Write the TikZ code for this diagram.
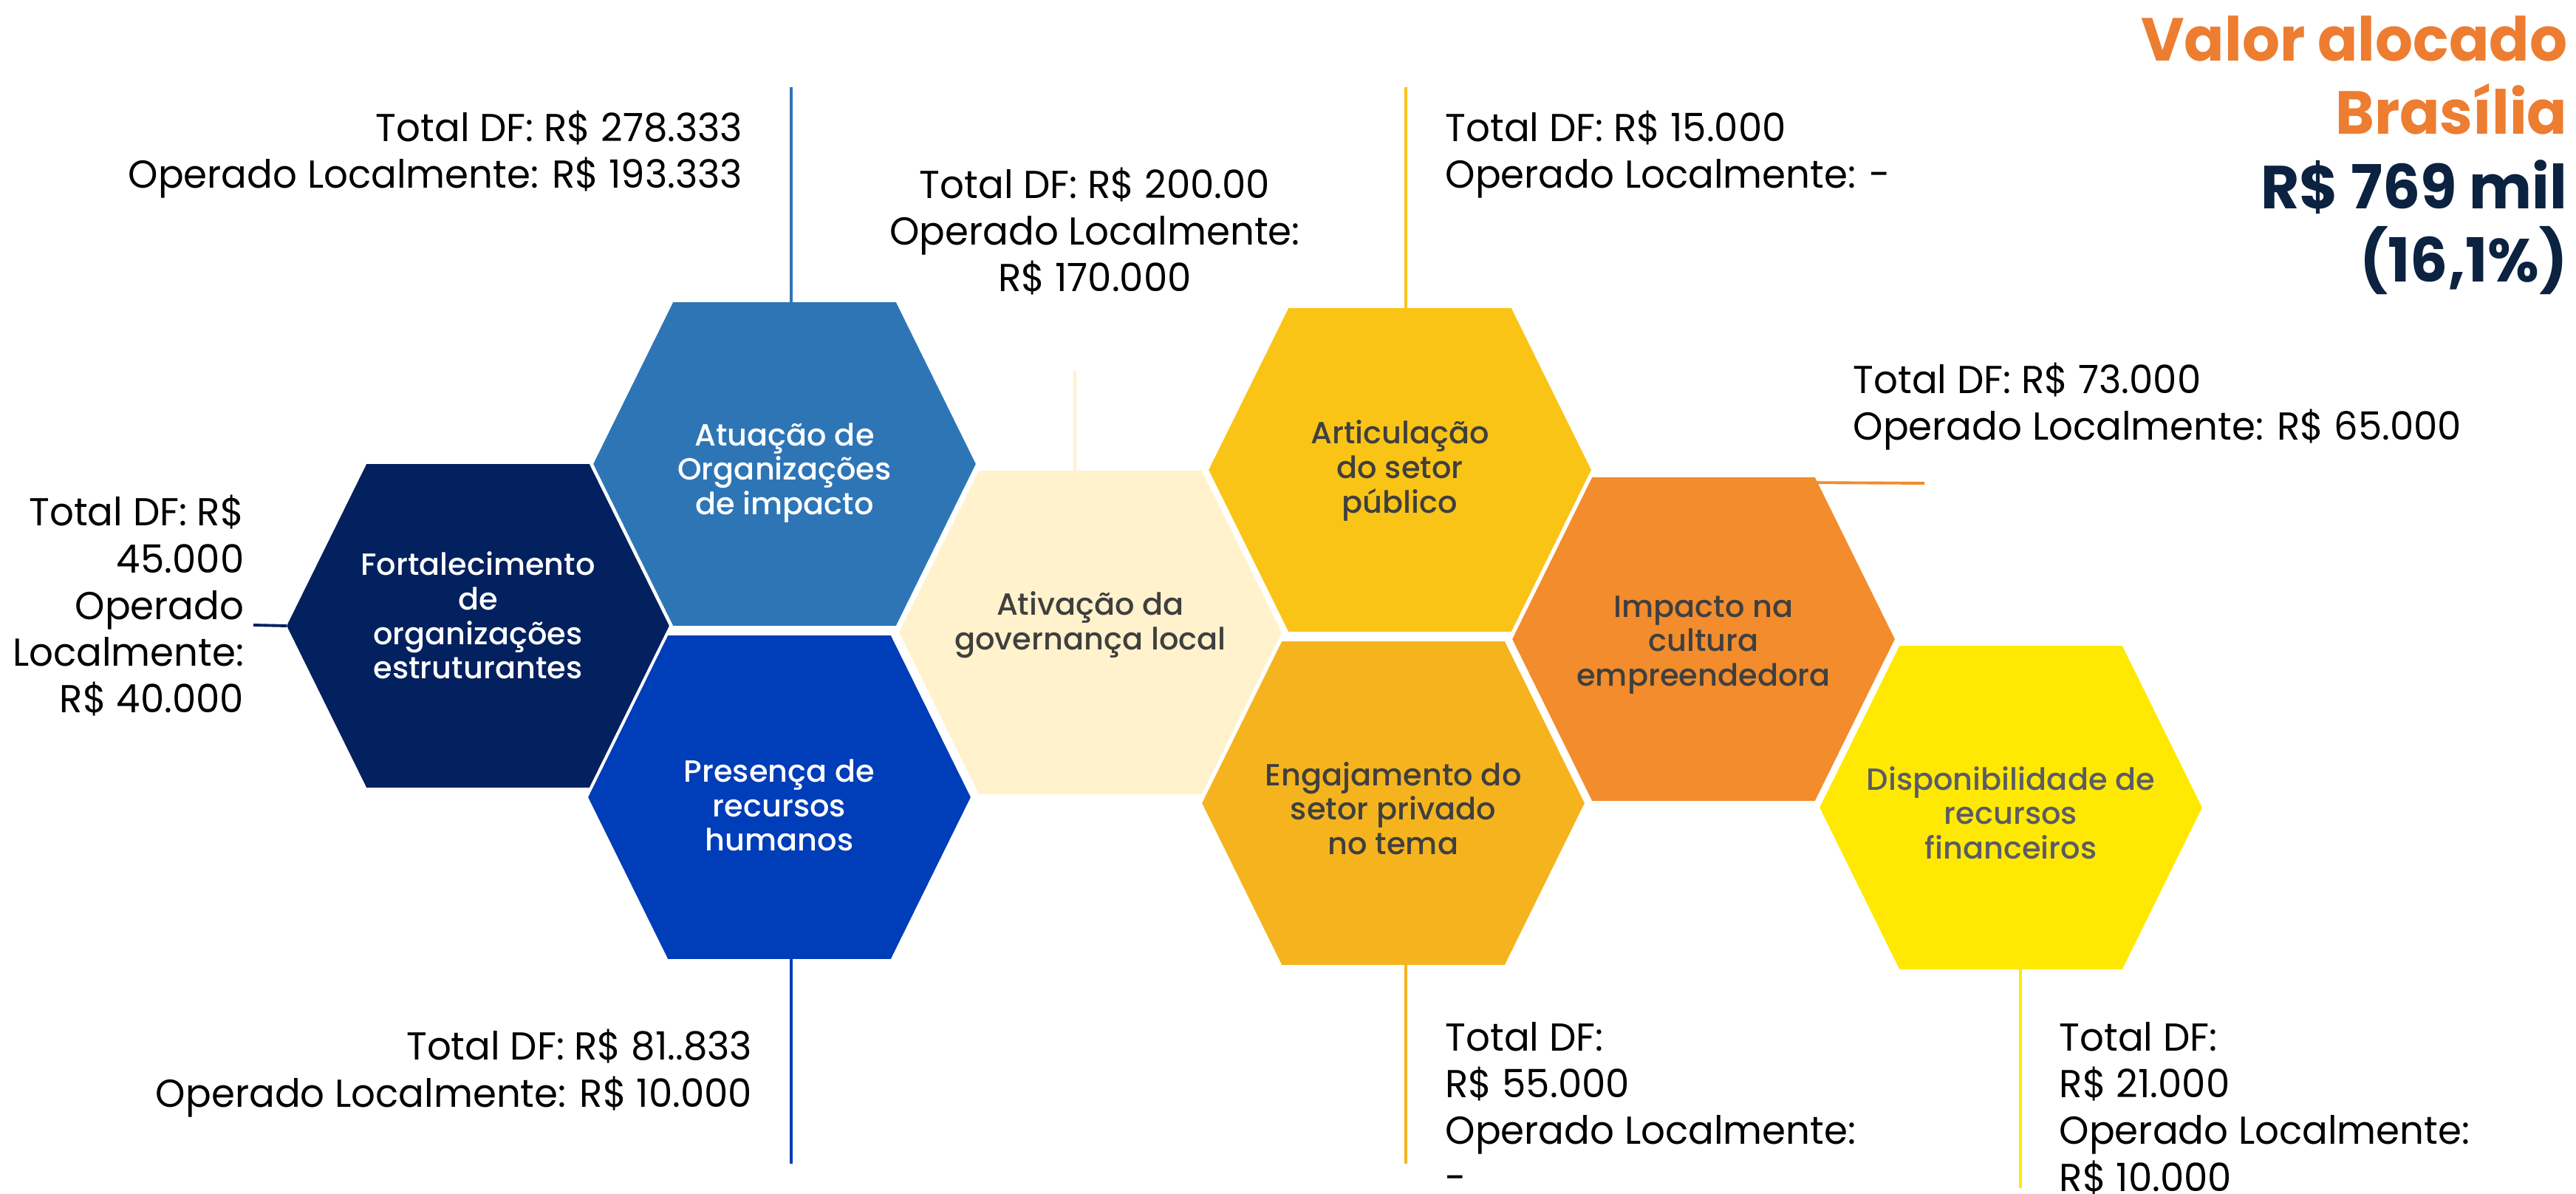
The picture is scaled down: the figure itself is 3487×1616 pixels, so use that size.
\documentclass[tikz,border=0pt]{standalone}
\usepackage{fontspec}
\setmainfont{Poppins}[FakeStretch=0.975]
\newfontfamily\hexfont{Poppins Medium}
\usetikzlibrary{calc,backgrounds}

\definecolor{navy}{HTML}{03215F}
\definecolor{steel}{HTML}{2E75B6}
\definecolor{royal}{HTML}{003DB8}
\definecolor{cream}{HTML}{FFF2CC}
\definecolor{gold}{HTML}{F9C416}
\definecolor{amber}{HTML}{F5B41E}
\definecolor{tangerine}{HTML}{F28C2C}
\definecolor{lemon}{HTML}{FFE903}
\definecolor{titleorange}{HTML}{ED7D31}
\definecolor{titlenavy}{HTML}{0B2240}
\definecolor{hextext}{HTML}{3F3F3F}
\definecolor{hexgrey}{HTML}{5B5B66}

\begin{document}
\begin{tikzpicture}
[
                  x =  0.01cm,
                  y = -0.01cm,
      hexcell/.style = { draw=none, inner sep=0pt, minimum width=5.16cm, minimum height=4.36cm },
     lighttxt/.style = { inner sep=0pt, align=center, text=white, font=\hexfont\fontsize{11.8}{13.3}\selectfont },
      darktxt/.style = { lighttxt, text=hextext },
       amount/.style = { inner sep=0pt, font=\fontsize{15}{18}\selectfont },
   leftamount/.style = { amount, anchor=base west, align=left },
  rightamount/.style = { amount, anchor=base east, align=right },
 centreamount/.style = { amount, anchor=base, align=center },
         link/.style = { line width=1.1pt },
        title/.style = { inner sep=0pt, anchor=base east, align=right, font=\bfseries\fontsize{23.4}{28.3}\selectfont }
]

    \useasboundingbox (0,0) rectangle (3487,1616);

    % honeycomb
    \node (Fort)  at (647,847)   [hexcell] {};
    \node (Atua)  at (1062,628)  [hexcell] {};
    \node (Pres)  at (1055,1079) [hexcell] {};
    \node (Ativ)  at (1476,856)  [hexcell] {};
    \node (Artic) at (1895,636)  [hexcell] {};
    \node (Engaj) at (1886,1087) [hexcell] {};
    \node (Imp)   at (2306,865)  [hexcell] {};
    \node (Disp)  at (2722,1093) [hexcell] {};

    \begin{scope}[on background layer]
    \foreach \n/\c in {Fort/navy, Atua/steel, Pres/royal, Ativ/cream, Artic/gold, Engaj/amber, Imp/tangerine, Disp/lemon}
        \fill[\c] (\n.west) -- ($(\n.north west)+(108,0)$) -- ($(\n.north east)+(-108,0)$) -- (\n.east)
                  -- ($(\n.south east)+(-108,0)$) -- ($(\n.south west)+(108,0)$) -- cycle;
    \end{scope}

    \node (FortText)  at ($(Fort)+(0,-14)$)  [lighttxt] {Fortalecimento\\de\\organizações\\estruturantes};
    \node (AtuaText)  at ($(Atua)+(0,12)$)   [lighttxt] {Atuação de\\Organizações\\de impacto};
    \node (PresText)  at ($(Pres)+(0,11)$)   [lighttxt] {Presença de\\recursos\\humanos};
    \node (AtivText)  at ($(Ativ)+(0,-10)$)  [darktxt]  {Ativação da\\governança local};
    \node (ArticText) at ($(Artic)+(0,1)$)   [darktxt]  {Articulação\\do setor\\público};
    \node (EngajText) at ($(Engaj)+(0,7)$)   [darktxt]  {Engajamento do\\setor privado\\no tema};
    \node (ImpText)   at ($(Imp)+(0,8)$)     [darktxt]  {Impacto na\\cultura\\empreendedora};
    \node (DispText)  at ($(Disp)+(0,7)$)    [darktxt, text=hexgrey] {Disponibilidade de\\recursos\\financeiros};

    % free ends of the leader lines
    \coordinate (FortTip)  at (343,846);
    \coordinate (AtuaTip)  at (1071,118);
    \coordinate (PresTip)  at (1071,1575);
    \coordinate (AtivTip)  at (1455,502);
    \coordinate (ArticTip) at (1903,118);
    \coordinate (EngajTip) at (1903,1575);
    \coordinate (ImpTip)   at (2605,654);
    \coordinate (DispTip)  at (2735,1608);

    \draw[link, navy]      (FortTip) -- (Fort.west);
    \draw[link, steel]     (AtuaTip) -- (AtuaTip |- Atua.north);
    \draw[link, royal]     (PresTip) -- (PresTip |- Pres.south);
    \draw[link, cream]     (AtivTip) -- (AtivTip |- Ativ.north);
    \draw[link, gold]      (ArticTip) -- (ArticTip |- Artic.north);
    \draw[link, amber]     (EngajTip) -- (EngajTip |- Engaj.south);
    \draw[link, tangerine] (ImpTip) -- ($(Imp.north east)+(-106,7)$);
    \draw[link, lemon]     (DispTip) -- (DispTip |- Disp.south);

    % amounts (base = last line)
    \node (FortLabel)  at (331,965)   [rightamount]  {Total DF: R\$\\45.000\\Operado\\Localmente:\\R\$ 40.000};
    \node (AtuaLabel)  at (1006,255)  [rightamount]  {Total DF: R\$ 278.333\\Operado Localmente: R\$ 193.333};
    \node (PresLabel)  at (1019,1498) [rightamount]  {Total DF: R\$ 81..833\\Operado Localmente: R\$ 10.000};
    \node (AtivLabel)  at (1482,395)  [centreamount] {Total DF: R\$ 200.00\\Operado Localmente:\\R\$ 170.000};
    \node (ArticLabel) at (1956,255)  [leftamount]   {Total DF: R\$ 15.000\\Operado Localmente: -};
    \node (EngajLabel) at (1956,1612) [leftamount]   {Total DF:\\R\$ 55.000\\Operado Localmente:\\-};
    \node (ImpLabel)   at (2508,596)  [leftamount]   {Total DF: R\$ 73.000\\Operado Localmente: R\$ 65.000};
    \node (DispLabel)  at (2787,1612) [leftamount]   {Total DF:\\R\$ 21.000\\Operado Localmente:\\R\$ 10.000};

    \node (TitleTop)   at (3476,182)  [title, text=titleorange] {Valor alocado\\Brasília};
    \node (TitleValue) at (3476,382)  [title, text=titlenavy]   {R\$ 769 mil\\(16,1\%)};

\end{tikzpicture}
\end{document}
